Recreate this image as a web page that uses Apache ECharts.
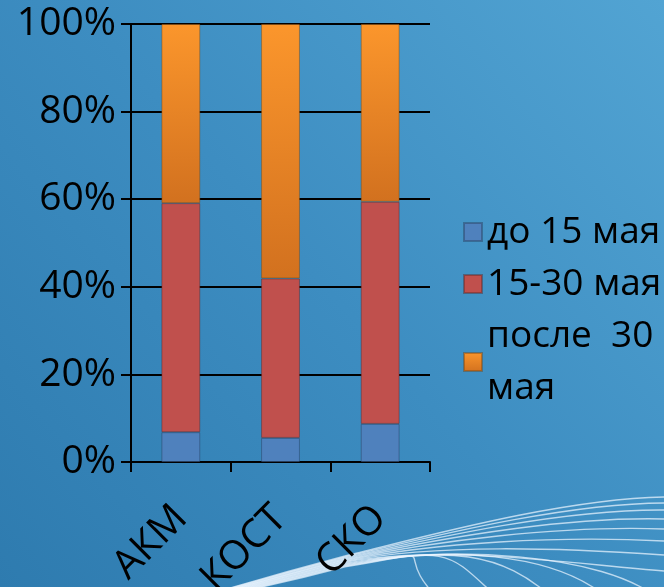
<!DOCTYPE html>
<html><head><meta charset="utf-8">
<script src="https://cdn.jsdelivr.net/npm/echarts@6/dist/echarts.min.js"></script>
<style>html,body{margin:0;padding:0;background:#3a8abd;}#c{width:664px;height:587px;}</style>
</head><body><div id="c"></div>
<script>
const categories = ['АКМ', 'КОСТ', 'СКО'];
const seriesNames = ['до 15 мая', '15-30 мая', 'после  30 мая'];
const before15 = [6.8, 5.5, 8.7];
const from15to30 = [52.3, 36.4, 50.7];
const after30 = [40.9, 58.1, 40.6];
const yTicks = [0, 20, 40, 60, 80, 100];

const FONT = '"Open Sans", sans-serif';
const chart = echarts.init(document.getElementById('c'), null, {renderer: 'canvas'});

// decorative swoosh lines (background ornament, not data)
const swoosh = [];
const sStyle = {stroke: 'rgba(235,245,255,0.72)', lineWidth: 1.4, fill: null};
[[664,497],[664,503],[664,510],[664,519],[664,529],[664,541],[664,555],[664,571],[660,600],[610,600],[555,600],[500,600],[440,600]]
.forEach(([ex, ey], i) => {
  const d = i * 0.9;
  const up = ex === 664;
  const c2x = up ? 560 : ex - 55, c2y = up ? ey + 2 - i * 1.5 : 560 - i;
  swoosh.push({type: 'bezierCurve', silent: true, z: -1,
    shape: {x1: 180, y1: 603, cpx1: 262, cpy1: 578 + d, x2: 345, y2: 556 + d}, style: sStyle});
  swoosh.push({type: 'bezierCurve', silent: true, z: -1,
    shape: {x1: 345, y1: 556 + d, cpx1: 420 + i * 3, cpy1: 538 + d, cpx2: c2x, cpy2: c2y, x2: ex, y2: ey}, style: sStyle});
});

const orangeGrad = new echarts.graphic.LinearGradient(0, 0, 0, 1, [
  {offset: 0, color: '#fb962c'}, {offset: 1, color: '#d2711f'}
]);

chart.setOption({
  backgroundColor: {type: 'linear', x: 0, y: 1, x2: 1, y2: 0, colorStops: [
    {offset: 0, color: '#2e7baf'}, {offset: 0.5, color: '#3d8dc1'}, {offset: 1, color: '#52a4d3'}
  ]},
  animation: false,
  textStyle: {fontFamily: FONT},
  graphic: swoosh,
  grid: {left: 131, right: 234, top: 24, bottom: 125, containLabel: false, outerBoundsMode: 'none'},
  legend: {
    orient: 'vertical', left: 458, top: 201, itemWidth: 18, itemHeight: 18, itemGap: 0,
    icon: 'rect',
    data: seriesNames,
    formatter: n => n === 'после  30 мая' ? 'после  30\nмая' : n,
    textStyle: {fontFamily: FONT, fontSize: 37, color: '#000', lineHeight: 52},
  },
  xAxis: {
    type: 'category', data: categories,
    axisLine: {lineStyle: {color: '#000', width: 2}},
    axisTick: {show: true, length: 10, lineStyle: {color: '#000', width: 2}},
    axisLabel: {rotate: 45, margin: 50, fontSize: 40, color: '#000', fontFamily: FONT, interval: 0}
  },
  yAxis: {
    type: 'value', min: 0, max: 100, interval: 20,
    axisLine: {show: true, lineStyle: {color: '#000', width: 2}},
    axisTick: {show: true, length: 10, lineStyle: {color: '#000', width: 2}},
    splitLine: {lineStyle: {color: '#000', width: 2}},
    axisLabel: {formatter: v => yTicks.includes(v) ? v + '%' : '', margin: 15, fontSize: 39, color: '#000', fontFamily: FONT}
  },
  series: [
    {name: seriesNames[0], type: 'bar', stack: 's', data: before15, barWidth: '39%',
     itemStyle: {color: '#4f81bd', borderColor: 'rgba(40,60,90,0.45)', borderWidth: 1}},
    {name: seriesNames[1], type: 'bar', stack: 's', data: from15to30, barWidth: '39%',
     itemStyle: {color: '#c0504d', borderColor: 'rgba(90,40,40,0.45)', borderWidth: 1}},
    {name: seriesNames[2], type: 'bar', stack: 's', data: after30, barWidth: '39%',
     itemStyle: {color: orangeGrad, borderColor: 'rgba(120,70,20,0.45)', borderWidth: 1}}
  ]
});
</script></body></html>
